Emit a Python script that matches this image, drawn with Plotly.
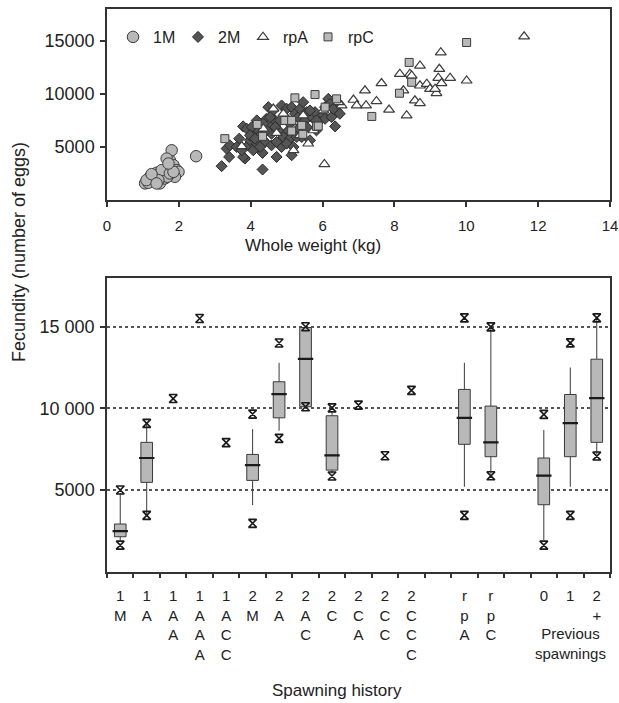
import plotly.graph_objects as go

# ---------------- Top panel: fecundity vs whole weight ----------------
m1_weight = [1.06, 1.15, 1.29, 1.38, 1.47, 1.52, 1.61, 1.71, 1.75, 1.80, 1.66, 1.85, 1.94, 1.99,
             1.89, 1.61, 1.38, 1.20, 1.10, 2.48, 1.68, 1.52, 1.43, 1.24, 1.75, 1.85, 1.71, 1.38]
m1_fec = [1563, 1625, 2031, 2563, 1563, 2188, 2656, 3125, 3750, 4688, 3906, 3281, 2813, 2656,
          2188, 2031, 2344, 2188, 1875, 4125, 2188, 2813, 1875, 2438, 2500, 2656, 3438, 1563]

m2_weight = [3.19, 3.40, 3.33, 3.42, 3.68, 3.79, 3.84, 3.79, 3.93, 3.98, 4.07, 4.07, 4.17, 4.21,
             4.26, 4.33, 4.33, 4.35, 4.40, 4.44, 4.49, 4.54, 4.58, 4.63, 4.68, 4.72, 4.77, 4.86,
             4.86, 4.91, 4.95, 5.00, 5.05, 5.09, 5.14, 5.14, 5.19, 5.23, 5.28, 5.32, 5.37, 5.42,
             5.46, 5.51, 5.56, 5.65, 5.70, 5.79, 5.83, 5.93, 6.02, 6.07, 6.16, 6.21, 6.25, 6.35,
             6.39, 6.48, 3.89, 4.03, 4.17, 4.26, 4.58, 4.72, 4.44, 5.00, 5.19, 4.81, 3.98, 4.12,
             4.68, 5.28, 5.56, 4.35, 4.54, 5.09, 5.65, 5.83, 6.07, 6.30, 3.61, 3.75]
m2_fec = [3188, 4063, 4844, 5156, 5781, 6938, 3906, 4063, 5156, 5625, 4688, 6250, 7500, 6563,
          6094, 4438, 2875, 5625, 5469, 7656, 8750, 7188, 6250, 8438, 7500, 4063, 6563, 8906,
          5000, 5938, 7813, 8594, 6563, 5781, 4219, 8750, 7500, 8125, 6563, 7813, 8594, 5938,
          9219, 7500, 8281, 5625, 7813, 8281, 6563, 7500, 7969, 7656, 9531, 9063, 7813, 6938,
          8438, 8125, 6719, 6875, 5313, 5000, 5156, 5469, 6563, 5313, 5000, 7500, 6094, 5781,
          6875, 5938, 6875, 7188, 7813, 7188, 8438, 7500, 8750, 8594, 5000, 4688]

rpa_weight = [11.61, 9.29, 8.71, 9.25, 8.43, 8.15, 8.48, 9.22, 9.55, 10.01, 9.31, 8.71, 8.90, 8.99,
              9.17, 9.13, 8.25, 7.64, 7.18, 6.86, 6.95, 7.50, 7.21, 7.85, 8.34, 8.57, 8.71, 6.53,
              6.44, 4.63, 5.60, 5.19, 6.05, 4.35, 4.72, 3.75, 5.19, 5.46, 4.91, 6.02, 5.37, 5.75]
rpa_fec = [15406, 13906, 12656, 12344, 11875, 11875, 11719, 11500, 11500, 11250, 11000, 10781, 10938, 10469,
           10063, 10469, 10313, 11000, 10313, 9438, 8906, 9313, 8906, 8500, 7969, 9375, 9125, 8906,
           9219, 8594, 5313, 4688, 3375, 6719, 6313, 5063, 7344, 7969, 8125, 8438, 6094, 6563]

rpc_weight = [10.01, 8.41, 8.48, 8.14, 7.37, 5.79, 5.23, 6.39, 6.07, 5.83, 5.45, 5.45, 5.14, 4.95,
              4.33, 4.18, 3.28, 5.14, 5.42, 5.88]
rpc_fec = [14844, 12969, 11094, 10063, 7875, 9938, 9625, 9531, 8750, 6938, 6938, 6188, 6500, 7500,
           6000, 7125, 5781, 7500, 7031, 6969]

top_xticks = [0, 2, 4, 6, 8, 10, 12, 14]
top_yticks = [5000, 10000, 15000]
top_yticktext = ["5000", "10000", "15000"]

# ---------------- Bottom panel: fecundity by spawning history ----------------
slot_labels = ["1<br>M", "1<br>A", "1<br>A<br>A", "1<br>A<br>A<br>A", "1<br>A<br>C<br>C",
               "2<br>M", "2<br>A", "2<br>A<br>C", "2<br>C", "2<br>C<br>A", "2<br>C<br>C",
               "2<br>C<br>C<br>C", "r<br>p<br>A", "r<br>p<br>C", "0", "1", "2<br>+"]
slot_pos = [0, 1, 2, 3, 4, 5, 6, 7, 8, 9, 10, 11, 13, 14, 16, 17, 18]
slot_bounds = [-0.5, 0.5, 1.5, 2.5, 3.5, 4.5, 5.5, 6.5, 7.5, 8.5, 9.5, 10.5, 11.5, 12.5,
               13.5, 14.5, 15.5, 16.5, 17.5, 18.5]

box_names = ["1M", "1A", "2M", "2A", "2AC", "2C", "rpA", "rpC", "0", "1", "2+"]
box_pos = [0, 1, 5, 6, 7, 8, 13, 14, 16, 17, 18]
box_min = [1630, 3450, 2960, 8160, 10100, 5860, 3450, 5870, 1630, 3450, 7080]
box_lf = [1900, 3500, 4080, 8630, 10100, 6000, 5200, 6000, 1940, 5200, 7200]
box_q1 = [2140, 5470, 5590, 9420, 10100, 6220, 7800, 7040, 4100, 7040, 7920]
box_med = [2490, 6960, 6530, 10870, 13030, 7120, 9420, 7920, 5880, 9100, 10630]
box_q3 = [2920, 7920, 7180, 11630, 14950, 9550, 11160, 10140, 6960, 10850, 13010]
box_uf = [4800, 9000, 8730, 12790, 14950, 9800, 12790, 14900, 8670, 12500, 15400]
box_max = [5000, 9080, 9650, 14000, 15000, 10030, 15540, 14990, 9630, 14010, 15540]

single_names = ["1AA", "1AAA", "1ACC", "2CA", "2CC", "2CCC"]
single_pos = [2, 3, 4, 9, 10, 11]
single_val = [10600, 15500, 7900, 10200, 7100, 11100]

bot_yticks = [5000, 10000, 15000]
bot_yticktext = ["5000", "10 000", "15 000"]

# ---------------- Figure ----------------
W, H = 619, 703
FONT = "Liberation Sans, Arial, sans-serif"
DARK = "#333333"
GREY = "#b8b8b8"
INK = "#1a1a1a"

fig = go.Figure()

fig.add_trace(go.Scatter(x=m1_weight, y=m1_fec, mode="markers", name="1M",
                         marker=dict(symbol="circle", size=11.5, color=GREY,
                                     line=dict(color="#3c3c3c", width=1)),
                         xaxis="x", yaxis="y"))
fig.add_trace(go.Scatter(x=m2_weight, y=m2_fec, mode="markers", name="2M",
                         marker=dict(symbol="diamond", size=8.5, color="#555555",
                                     line=dict(color="#2a2a2a", width=1)),
                         xaxis="x", yaxis="y"))
fig.add_trace(go.Scatter(x=rpa_weight, y=rpa_fec, mode="markers", name="rpA",
                         marker=dict(symbol="triangle-up", size=9.5, color="white",
                                     line=dict(color="#3c3c3c", width=1.2)),
                         xaxis="x", yaxis="y"))
fig.add_trace(go.Scatter(x=rpc_weight, y=rpc_fec, mode="markers", name="rpC",
                         marker=dict(symbol="square", size=8, color=GREY,
                                     line=dict(color="#3c3c3c", width=1)),
                         xaxis="x", yaxis="y"))

fig.add_trace(go.Box(x=box_pos, q1=box_q1, median=box_med, q3=box_q3,
                     lowerfence=box_lf, upperfence=box_uf, name="box",
                     width=0.44, whiskerwidth=0, boxpoints=False,
                     fillcolor=GREY, line=dict(color="#3a3a3a", width=1),
                     showlegend=False, xaxis="x2", yaxis="y2"))
fig.add_trace(go.Scatter(x=box_pos, y=box_med, mode="markers", showlegend=False,
                         marker=dict(symbol="line-ew-open", size=11, color=INK,
                                     line=dict(color=INK, width=2.2)),
                         xaxis="x2", yaxis="y2", hoverinfo="skip"))
fig.add_trace(go.Scatter(x=box_pos + box_pos + single_pos,
                         y=box_min + box_max + single_val,
                         mode="markers", showlegend=False,
                         marker=dict(symbol="hourglass-open", size=8, color=INK,
                                     line=dict(color=INK, width=1.6)),
                         xaxis="x2", yaxis="y2"))

x0, x1 = 107 / W, 610 / W
axis_common = dict(showline=True, linecolor=DARK, linewidth=1.5, mirror=True,
                   zeroline=False, ticks="outside", ticklen=5, tickcolor=DARK,
                   tickwidth=1.5, tickfont=dict(family=FONT, size=15, color="#222"),
                   automargin=False, ticklabeloverflow="allow")
ytickfont = dict(family=FONT, size=18, color="#222")

fig.update_layout(
    width=W, height=H, margin=dict(l=0, r=0, t=0, b=0),
    paper_bgcolor="white", plot_bgcolor="white",
    font=dict(family=FONT, color="#222"),
    xaxis=dict(domain=[x0, x1], range=[0, 14], tickvals=top_xticks, showgrid=False,
               anchor="y", ticklabelstandoff=6, **axis_common),
    yaxis=dict(domain=[1 - 200 / H, 1 - 9 / H], range=[0, 18000], tickvals=top_yticks,
               ticktext=top_yticktext, showgrid=False, anchor="x", ticklabelstandoff=2,
               **{**axis_common, "tickfont": ytickfont}),
    xaxis2=dict(domain=[x0, x1], range=[-0.5, 18.5], tickvals=slot_pos, ticktext=slot_labels,
                showgrid=False, anchor="y2", ticklabelstandoff=10,
                **{**axis_common, "ticks": "", "ticklen": 0},
                minor=dict(tickvals=slot_bounds, ticks="outside", ticklen=5,
                           tickcolor=DARK, tickwidth=1.5, showgrid=False)),
    yaxis2=dict(domain=[1 - 571.7 / H, 1 - 277.7 / H], range=[0, 18000], tickvals=bot_yticks,
                ticktext=bot_yticktext, showgrid=True, gridcolor="#555555", griddash="dot",
                gridwidth=1.5, anchor="x2", ticklabelstandoff=2,
                **{**axis_common, "tickfont": ytickfont}),
    legend=dict(orientation="h", x=113 / W, y=1 - 37 / H, xanchor="left", yanchor="middle",
                bgcolor="rgba(0,0,0,0)", font=dict(family=FONT, size=16, color="#222"),
                itemwidth=30, tracegroupgap=0, entrywidth=20, entrywidthmode="pixels"),
    showlegend=True,
)

fig.add_annotation(text="Fecundity (number of eggs)", x=19 / W, y=1 - 252 / H,
                   xref="paper", yref="paper", xanchor="center", yanchor="middle",
                   textangle=-90, showarrow=False,
                   font=dict(family=FONT, size=18, color="#222"))
fig.add_annotation(text="Whole weight (kg)", x=313 / W, y=1 - 245 / H,
                   xref="paper", yref="paper", xanchor="center", yanchor="middle",
                   showarrow=False, font=dict(family=FONT, size=17, color="#222"))
fig.add_annotation(text="Spawning history", x=337 / W, y=1 - 690 / H,
                   xref="paper", yref="paper", xanchor="center", yanchor="middle",
                   showarrow=False, font=dict(family=FONT, size=17, color="#222"))
fig.add_annotation(text="Previous<br>spawnings", x=17, y=1 - 643 / H,
                   xref="x2", yref="paper", xanchor="center", yanchor="middle",
                   showarrow=False, font=dict(family=FONT, size=15, color="#222"))

fig.write_html("out.html", config={"displayModeBar": False},
               post_script="document.body.style.margin='0';")
